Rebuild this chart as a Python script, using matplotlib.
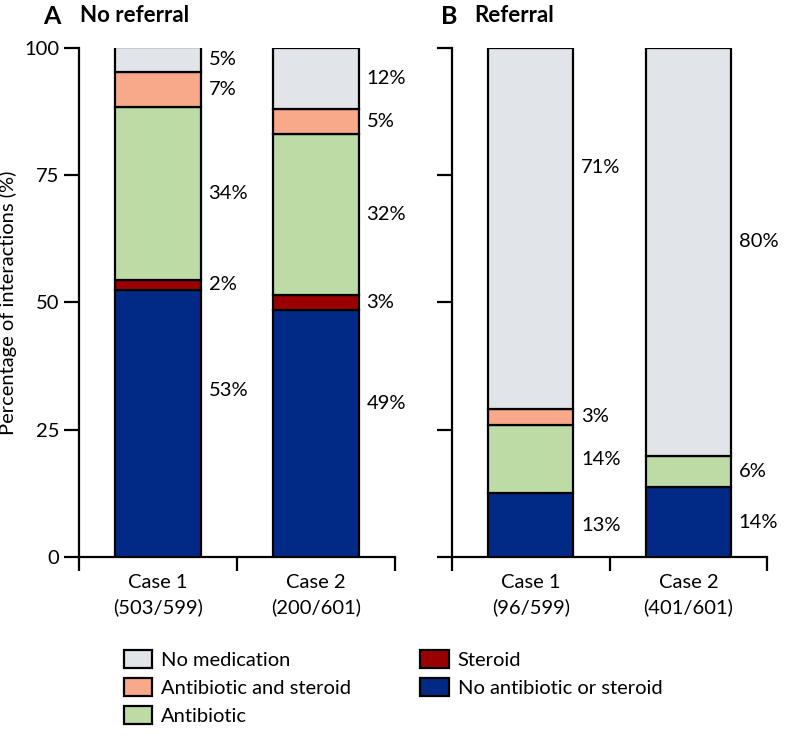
import numpy as np
import matplotlib
matplotlib.use("Agg")
import matplotlib.pyplot as plt
from matplotlib.patches import Patch

plt.rcParams['font.family'] = ['Lato', 'DejaVu Sans']

# data (percent of interactions), bottom to top
categories = ['No antibiotic or steroid', 'Steroid', 'Antibiotic',
              'Antibiotic and steroid', 'No medication']
colors = ['#002a86', '#9b0000', '#bddba5', '#f7a98a', '#e1e4e8']

noref_case1 = [52.5, 2.0, 33.8, 7.0, 4.8]
noref_case2 = [48.5, 3.0, 31.5, 5.0, 12.0]
ref_case1 = [12.5, 0.0, 13.5, 3.1, 70.8]
ref_case2 = [13.7, 0.0, 6.2, 0.0, 80.0]

noref_labels1 = ['53%', '2%', '34%', '7%', '5%']
noref_labels2 = ['49%', '3%', '32%', '5%', '12%']
ref_labels1 = ['13%', '', '14%', '3%', '71%']
ref_labels2 = ['14%', '', '6%', '', '80%']

noref_ticks = ['Case 1\n(503/599)', 'Case 2\n(200/601)']
ref_ticks = ['Case 1\n(96/599)', 'Case 2\n(401/601)']

# a few labels sit higher than the segment middle
label_shift = {('A', 0, 0): 6.4, ('A', 1, 0): 6.0, ('B', 0, 4): 12.0, ('B', 1, 4): 2.0}

fig = plt.figure(figsize=(7.86, 7.52), dpi=100)
axA = fig.add_axes([0.1005, 0.2593, 0.402, 0.677])
axB = fig.add_axes([0.575, 0.2593, 0.401, 0.677])


def draw_panel(ax, key, cases, labels, ticks, show_y):
    for i, (vals, labs) in enumerate(zip(cases, labels)):
        bottom = 0
        for j, v in enumerate(vals):
            if v > 0:
                ax.bar(i, v, bottom=bottom, width=0.54, color=colors[j],
                       edgecolor='black', linewidth=1.6, zorder=3)
            if labs[j]:
                y = bottom + v / 2 + label_shift.get((key, i, j), 0)
                ax.text(i + 0.32, y, labs[j], va='center', ha='left', fontsize=14.5)
            bottom += v
    ax.set_xlim(-0.5, 1.5)
    ax.set_ylim(0, 100)
    ax.set_xticks([-0.5, 0.5, 1.5])
    ax.set_xticklabels([])
    ax.set_xticks([0, 1], minor=True)
    ax.set_xticklabels(ticks, minor=True, fontsize=14.5, linespacing=1.5)
    ax.tick_params(axis='x', which='major', length=10, width=1.6, direction='out')
    ax.tick_params(axis='x', which='minor', length=0, pad=12)
    ax.set_yticks([0, 25, 50, 75, 100])
    ax.tick_params(axis='y', length=11, width=1.6, direction='out', labelsize=14.5, pad=3)
    if not show_y:
        ax.set_yticklabels([])
    for s in ['top', 'right']:
        ax.spines[s].set_visible(False)
    for s in ['left', 'bottom']:
        ax.spines[s].set_linewidth(1.6)


draw_panel(axA, 'A', [noref_case1, noref_case2], [noref_labels1, noref_labels2],
           noref_ticks, True)
draw_panel(axB, 'B', [ref_case1, ref_case2], [ref_labels1, ref_labels2],
           ref_ticks, False)
axA.set_ylabel('Percentage of interactions (%)', fontsize=14.5, labelpad=5)

fig.text(0.055, 0.994, 'A', fontsize=18, fontweight='bold', va='top')
fig.text(0.102, 0.994, 'No referral', fontsize=16, fontweight='bold', va='top')
fig.text(0.561, 0.994, 'B', fontsize=18, fontweight='bold', va='top')
fig.text(0.604, 0.994, 'Referral', fontsize=16, fontweight='bold', va='top')

# legend, order as in the original
order = [4, 3, 2, 1, 0]
handles = [Patch(facecolor=colors[k], edgecolor='black', linewidth=1.6) for k in order]
fig.legend(handles, [categories[k] for k in order], ncol=2, frameon=False,
           loc='upper left', bbox_to_anchor=(0.147, 0.146), fontsize=14.5,
           handlelength=1.4, handleheight=1.0, handletextpad=0.45,
           columnspacing=3.45, labelspacing=0.45, borderaxespad=0)

fig.savefig('out.png', dpi=100)
